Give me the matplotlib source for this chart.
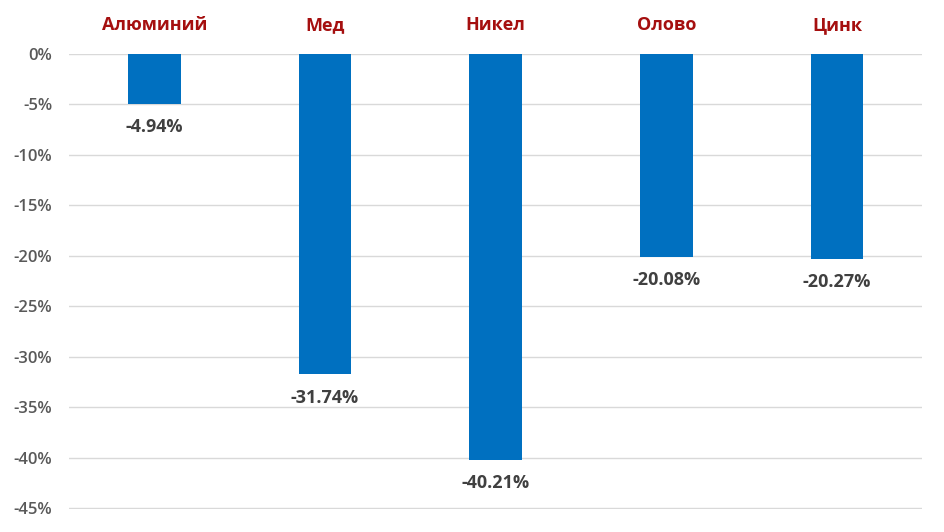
import matplotlib.pyplot as plt
from matplotlib.ticker import FuncFormatter

metals = ["Алюминий", "Мед", "Никел", "Олово", "Цинк"]
changes = [-4.94, -31.74, -40.21, -20.08, -20.27]
yticks = [0, -5, -10, -15, -20, -25, -30, -35, -40, -45]

fig = plt.figure(figsize=(9.45, 5.32), dpi=100)
ax = fig.add_axes([0.073, 0.043, 0.903, 0.8555])

x = list(range(len(metals)))
ax.bar(x, changes, width=0.31, color="#0070C0", zorder=3)

ax.set_xlim(-0.5, len(metals) - 0.5)
ax.set_ylim(-45.1, 0)
ax.set_yticks(yticks)
ax.yaxis.set_major_formatter(FuncFormatter(lambda v, p: f"{v:.0f}%"))
ax.grid(axis="y", color="#D9D9D9", linewidth=1, zorder=0)
ax.set_axisbelow(True)
for s in ax.spines.values():
    s.set_visible(False)
ax.tick_params(axis="y", length=0, pad=12, labelsize=12, labelcolor="#595959")
for lbl in ax.get_yticklabels():
    lbl.set_fontfamily("Open Sans")
    lbl.set_fontweight("semibold")
ax.set_xticks([])

for xi, v, name in zip(x, changes, metals):
    ax.annotate(f"{v:.2f}%", (xi, v), xytext=(0, -17), textcoords="offset points",
                ha="center", va="center", fontsize=13, fontweight="bold",
                color="#404040", family="Open Sans")
    ax.annotate(name, (xi, 0), xytext=(0, 21), textcoords="offset points",
                ha="center", va="center", fontsize=13, fontweight="bold",
                color="#A50F0F", family="Open Sans", annotation_clip=False)

fig.savefig("out.png", dpi=100)
